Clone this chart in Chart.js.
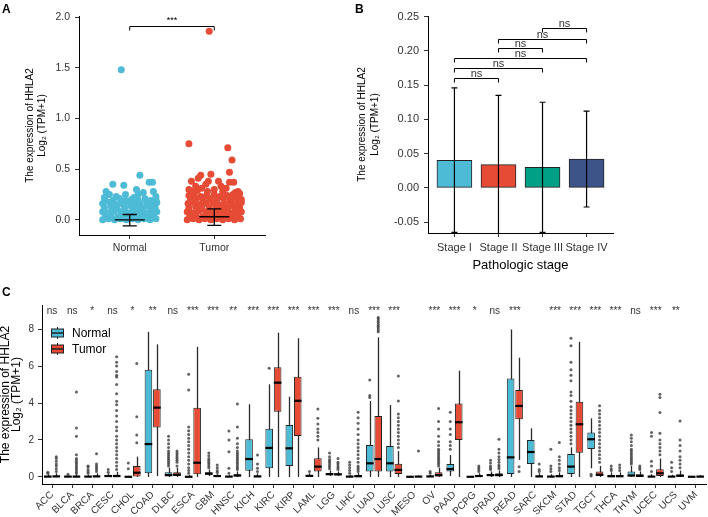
<!DOCTYPE html>
<html>
<head>
<meta charset="utf-8">
<title>HHLA2 expression</title>
<script src="https://cdn.jsdelivr.net/npm/chart.js@4.4.1/dist/chart.umd.min.js"></script>
<style>
  body { margin: 0; background: #fff; width: 708px; height: 517px; position: relative; overflow: hidden; font-family: 'Liberation Sans', Arial, sans-serif; }
  canvas { position: absolute; }
  .panel-label { position: absolute; font-weight: bold; font-size: 12px; color: #000; z-index: 2; }
</style>
</head>
<body>
<canvas id="chartA" width="290" height="280" style="left:0;top:0"></canvas>
<canvas id="chartB" width="300" height="280" style="left:354px;top:0"></canvas>
<canvas id="chartC" width="708" height="232" style="left:0;top:285px"></canvas>
<div class="panel-label" style="left:2px;top:2px">A</div>
<div class="panel-label" style="left:355px;top:2px">B</div>
<div class="panel-label" style="left:2px;top:285px">C</div>
<script>
// ---------- panel A : normal vs tumor, all samples ----------
const groupNames = ['Normal', 'Tumor'];
const groupTicks = [1, 2];
const yTicksA = [0, 0.5, 1, 1.5, 2];
// [jitter, value]
const normalPoints = [
  [-0.32, 0.00], [-0.25, 0.01], [-0.18, 0.00], [-0.11, 0.01], [-0.04, 0.00], [0.03, 0.01], [0.10, 0.00], [0.17, 0.01], [0.24, 0.00], [0.31, 0.01],
  [-0.29, 0.04], [-0.22, 0.05], [-0.14, 0.03], [-0.07, 0.04], [0.00, 0.05], [0.07, 0.03], [0.14, 0.04], [0.21, 0.05], [0.28, 0.04],
  [-0.32, 0.08], [-0.25, 0.07], [-0.18, 0.09], [-0.10, 0.08], [-0.03, 0.07], [0.04, 0.09], [0.11, 0.08], [0.18, 0.07], [0.25, 0.09], [0.32, 0.08],
  [-0.30, 0.12], [-0.22, 0.13], [-0.15, 0.11], [-0.06, 0.12], [0.02, 0.13], [0.09, 0.11], [0.16, 0.12], [0.23, 0.13], [0.30, 0.12],
  [-0.32, 0.16], [-0.24, 0.17], [-0.17, 0.15], [-0.10, 0.16], [-0.02, 0.17], [0.05, 0.15], [0.12, 0.16], [0.20, 0.17], [0.27, 0.15], [0.32, 0.17],
  [-0.29, 0.20], [-0.20, 0.19], [-0.12, 0.21], [-0.05, 0.19], [0.02, 0.20], [0.10, 0.19], [0.18, 0.21], [0.25, 0.19], [0.31, 0.20],
  [-0.10, 1.48], [0.12, 0.44], [-0.20, 0.35], [-0.07, 0.34], [0.23, 0.37], [0.27, 0.37], [0.08, 0.30], [-0.28, 0.28],
  [0.28, 0.28], [-0.24, 0.25], [0.10, 0.25], [-0.16, 0.23], [0.16, 0.27], [-0.30, 0.22], [0.05, 0.22], [0.31, 0.23], [-0.05, 0.25]
];
const tumorPoints = [
  [-0.32, 0.00], [-0.25, 0.01], [-0.18, 0.00], [-0.11, 0.01], [-0.04, 0.00], [0.03, 0.01], [0.10, 0.00], [0.17, 0.01], [0.24, 0.00], [0.31, 0.01],
  [-0.29, 0.04], [-0.22, 0.05], [-0.14, 0.03], [-0.07, 0.04], [0.00, 0.05], [0.07, 0.03], [0.14, 0.04], [0.21, 0.05], [0.28, 0.04],
  [-0.32, 0.08], [-0.25, 0.07], [-0.18, 0.09], [-0.10, 0.08], [-0.03, 0.07], [0.04, 0.09], [0.11, 0.08], [0.18, 0.07], [0.25, 0.09], [0.32, 0.08],
  [-0.30, 0.12], [-0.22, 0.13], [-0.15, 0.11], [-0.06, 0.12], [0.02, 0.13], [0.09, 0.11], [0.16, 0.12], [0.23, 0.13], [0.30, 0.12],
  [-0.31, 0.16], [-0.24, 0.17], [-0.17, 0.15], [-0.10, 0.16], [-0.02, 0.17], [0.05, 0.15], [0.12, 0.16], [0.20, 0.17], [0.27, 0.15], [0.32, 0.17],
  [-0.28, 0.20], [-0.21, 0.21], [-0.13, 0.19], [-0.05, 0.21], [0.03, 0.20], [0.11, 0.21], [0.19, 0.19], [0.26, 0.21], [0.32, 0.20],
  [-0.30, 0.24], [-0.24, 0.25], [-0.16, 0.23], [-0.09, 0.24], [0.00, 0.25], [0.07, 0.23], [0.15, 0.24], [0.22, 0.25], [0.29, 0.23],
  [-0.06, 1.86], [-0.30, 0.75], [0.16, 0.71], [0.21, 0.59], [0.18, 0.47], [-0.04, 0.45], [-0.16, 0.44], [-0.19, 0.41],
  [-0.27, 0.38], [-0.07, 0.38], [0.05, 0.38], [-0.10, 0.35], [0.18, 0.37], [0.23, 0.37], [0.28, 0.28], [-0.26, 0.28],
  [-0.15, 0.31], [0.00, 0.30], [0.10, 0.28], [-0.20, 0.29], [-0.08, 0.28], [0.14, 0.31], [0.25, 0.27], [0.30, 0.26],
  [-0.30, 0.30], [0.08, 0.33], [-0.22, 0.33]
];
const groupMean = [0.0, 0.03];
const groupLow = [-0.06, -0.055];
const groupHigh = [0.052, 0.108];
const bracketA = 1.91;
const sigA = '***';

// ---------- panel B : pathologic stage ----------
const stages = ['Stage I', 'Stage II', 'Stage III', 'Stage IV'];
const stageMean = [0.040, 0.034, 0.030, 0.042];
const stageLow = [-0.065, -0.075, -0.065, -0.028];
const stageHigh = [0.146, 0.135, 0.125, 0.112];
const stageColors = ['#4DBBD5', '#E64B35', '#00A087', '#3C5488'];
const yTicksB = [-0.05, 0, 0.05, 0.1, 0.15, 0.2, 0.25];
const stagePairs = [[1, 2], [1, 3], [1, 4], [2, 3], [2, 4], [3, 4]];
const pairHeights = [0.160, 0.175, 0.189, 0.204, 0.218, 0.233];
const pairLabels = ['ns', 'ns', 'ns', 'ns', 'ns', 'ns'];

// ---------- panel C : pan-cancer, normal vs tumor ----------
const cancers = ['ACC', 'BLCA', 'BRCA', 'CESC', 'CHOL', 'COAD', 'DLBC', 'ESCA', 'GBM', 'HNSC', 'KICH', 'KIRC', 'KIRP', 'LAML', 'LGG', 'LIHC', 'LUAD',
  'LUSC', 'MESO', 'OV', 'PAAD', 'PCPG', 'PRAD', 'READ', 'SARC', 'SKCM', 'STAD', 'TGCT', 'THCA', 'THYM', 'UCEC', 'UCS', 'UVM'];
const sigC = ['ns', 'ns', '*', 'ns', '*', '**', 'ns', '***', '***', '**', '***', '***', '***', '***', '***', 'ns', '***',
  '***', '', '***', '***', '*', 'ns', '***', '', '***', '***', '***', '***', 'ns', '***', '**', ''];
const yTicksC = [0, 2, 4, 6, 8];
// [lower whisker, q1, median, q3, upper whisker]
const normalBox = [
  [0, 0, 0.02, 0.06, 0.15], [0, 0, 0.02, 0.05, 0.1], [0, 0, 0.02, 0.05, 0.12], [0, 0.01, 0.05, 0.1, 0.2], [0, 0, 0.01, 0.03, 0.06],
  [0, 0.2, 1.78, 5.8, 7.85], [0, 0.05, 0.1, 0.25, 0.5], [0, 0, 0.01, 0.04, 0.1], [0.05, 0.12, 0.18, 0.25, 0.4], [0, 0, 0.02, 0.05, 0.1],
  [0, 0.34, 0.97, 2.04, 3.93], [0, 0.47, 1.57, 2.61, 5.01], [0, 0.59, 1.55, 2.81, 4.34], [0, 0.02, 0.06, 0.1, 0.2], [0.05, 0.1, 0.15, 0.22, 0.35],
  [0, 0, 0.02, 0.05, 0.12], [0, 0.29, 0.74, 1.73, 4.11], [0, 0.29, 0.74, 1.68, 3.89], [0, 0, 0.01, 0.03, 0.06], [0, 0.01, 0.03, 0.06, 0.12],
  [0.05, 0.29, 0.43, 0.7, 1.19], [0, 0, 0.01, 0.02, 0.04], [0, 0.05, 0.1, 0.18, 0.3], [0, 0.16, 1.06, 5.33, 7.98], [0, 0.7, 1.35, 2.0, 2.63],
  [0, 0, 0.02, 0.06, 0.15], [0, 0.16, 0.56, 1.24, 1.6], [0.47, 1.51, 2.04, 2.4, 3.17], [0, 0.01, 0.04, 0.1, 0.25], [0, 0.02, 0.08, 0.3, 0.6],
  [0, 0, 0.02, 0.06, 0.15], [0, 0, 0.02, 0.05, 0.12], [0, 0, 0.01, 0.03, 0.06]
];
const tumorBox = [
  [0, 0, 0.03, 0.08, 0.2], [0, 0, 0.02, 0.06, 0.15], [0, 0, 0.03, 0.08, 0.2], [0, 0.01, 0.05, 0.12, 0.28], [0, 0.02, 0.23, 0.6, 1.1],
  [0.05, 2.67, 3.75, 4.74, 7.17], [0, 0.05, 0.12, 0.25, 0.5], [0, 0.15, 0.77, 3.75, 7.04], [0, 0.02, 0.05, 0.1, 0.2], [0, 0.02, 0.08, 0.15, 0.3],
  [0, 0.01, 0.03, 0.08, 0.2], [0, 3.53, 5.1, 5.93, 7.8], [0, 2.22, 4.12, 5.42, 7.5], [0, 0.29, 0.56, 1.01, 1.6], [0.05, 0.1, 0.14, 0.2, 0.3],
  [0, 0.01, 0.04, 0.1, 0.22], [0, 0.29, 0.97, 3.3, 7.55], [0, 0.16, 0.38, 0.72, 1.4], [0, 0, 0.02, 0.04, 0.08], [0, 0.03, 0.1, 0.25, 0.5],
  [0, 2.0, 2.96, 3.98, 5.75], [0, 0.02, 0.05, 0.1, 0.2], [0, 0.05, 0.1, 0.2, 0.35], [0.92, 3.12, 3.84, 4.7, 6.45], [0, 0.01, 0.03, 0.08, 0.2],
  [0, 0.01, 0.04, 0.1, 0.25], [0, 1.31, 2.85, 4.07, 7.31], [0, 0.05, 0.12, 0.3, 0.6], [0, 0.01, 0.04, 0.1, 0.25], [0, 0.02, 0.06, 0.15, 0.3],
  [0, 0.05, 0.2, 0.42, 1.0], [0, 0.02, 0.06, 0.15, 0.35], [0, 0, 0.02, 0.05, 0.1]
];
const normalOut = [
  [0.2, 0.25], [0.15], [0.2, 0.3, 0.4, 0.55, 0.6], [0.25, 0.4], [0.45, 0.75],
  [], [0.6, 0.7, 0.8, 0.9, 1.0, 1.1, 1.2, 1.3, 1.4, 1.6, 1.8, 2.0, 2.2],
  [0.2, 0.35, 0.5, 0.7, 0.9, 1.1, 1.3, 1.5, 1.7, 1.9, 2.1, 2.3, 2.5, 2.7, 4.7, 5.55],
  [0.5, 0.6, 0.7, 0.8, 0.9, 1.0, 1.15, 1.3], [0.2, 0.47, 1.37, 2.0, 2.48],
  [], [5.88], [], [0.3], [0.45, 0.55, 0.65, 0.75, 0.85, 0.95, 1.1, 1.3],
  [0.2, 0.35, 0.5, 0.65, 0.8], [4.3, 4.4, 5.24], [], [], [0.2, 0.3],
  [1.5, 1.7, 1.9, 2.3, 2.6, 3.0, 3.5], [], [0.4, 0.5, 0.6, 0.75, 0.9], [], [],
  [0.3, 0.45, 0.6, 1.5],
  [1.8, 2.0, 2.2, 2.4, 2.6, 2.8, 3.0, 3.2, 3.4, 3.6, 3.8, 4.1, 4.4, 4.6, 5.2, 5.5, 5.8, 6.2, 7.1, 7.5],
  [0.05, 0.15], [0.35, 0.45, 0.6], [0.7, 0.8, 0.9, 1.0, 1.1, 1.2, 1.3, 1.4, 1.5, 1.7, 1.9, 2.1, 2.27],
  [0.3, 0.6, 0.85, 2.2, 2.4], [0.3, 0.5, 0.8], []
];
const tumorOut = [
  [0.3, 0.45, 0.6, 0.7, 0.85, 1.0, 1.1], [0.2, 0.3, 0.4, 0.5, 0.6, 0.7, 0.8, 0.9, 1.0, 1.2, 2.2, 2.65, 4.6],
  [0.3, 0.4, 0.5, 0.6, 0.7, 1.25],
  [0.4, 0.6, 0.8, 1.0, 1.2, 1.4, 1.6, 1.8, 2.0, 2.2, 2.5, 2.7, 3.0, 3.3, 3.6, 3.9, 4.1, 4.5, 5.0, 5.4, 5.5, 5.7, 6.0, 6.2, 6.5],
  [1.85, 2.27, 3.26, 6.14], [], [0.6, 0.8, 0.9, 1.0, 1.1, 1.2, 1.3, 1.4], [], [0.25, 0.35, 0.5, 0.65],
  [0.4, 0.5, 0.6, 0.7, 0.8, 0.9, 1.0, 1.1, 1.2, 1.3, 1.4, 1.6, 1.8, 2.1, 2.7, 3.95],
  [0.3, 0.47, 0.7, 1.19], [], [], [2.0, 2.2, 2.4, 2.6, 2.86, 3.17, 3.67], [0.4, 0.5, 0.6, 0.7, 0.8, 1.0],
  [0.3, 0.4, 0.5, 0.6, 0.8, 1.0, 1.2, 1.4, 1.6, 1.8, 2.0, 2.3, 2.6, 2.9, 3.2, 3.5],
  [7.85, 7.95, 8.05, 8.15, 8.25, 8.35, 8.45, 8.55, 8.63],
  [1.6, 1.8, 2.0, 2.2, 2.4, 2.6, 2.8, 3.0, 3.2, 3.4, 4.11, 5.46], [1.4],
  [0.6, 0.7, 0.8, 0.9, 1.0, 1.1, 1.2, 1.3, 1.4, 1.5, 1.7, 1.9, 2.2, 2.6, 3.0, 3.7],
  [], [0.3, 0.4, 0.5, 0.6], [0.45, 0.55, 0.65, 0.8, 0.95, 1.1, 1.3, 1.5, 2.04], [0.3, 0.55], [0.3, 0.4, 0.7],
  [0.35, 0.5, 0.7, 0.9, 1.1, 1.87], [],
  [0.8, 1.0, 1.2, 1.4, 1.6, 1.8, 2.0, 2.2, 2.4, 2.6, 2.8, 3.0, 3.2, 3.4, 3.6, 3.85],
  [0.35, 0.5, 0.65], [0.4, 0.5, 0.6], [1.2, 1.4, 1.6, 1.8, 2.0, 2.37, 3.48, 4.3, 4.47],
  [0.5, 0.7, 0.9, 1.1, 1.4, 1.7, 2.0, 3.03], []
];

const NORMAL_COL = '#4DBBD5';
const TUMOR_COL = '#E64B35';
const TICK_COL = '#333';
const yTitle = ['The expression of HHLA2', 'Log\u2082 (TPM+1)'];

Chart.defaults.font.family = "'Liberation Sans', Arial, sans-serif";
Chart.defaults.color = TICK_COL;

// ggplot style axes: black axis line, short ticks outside, no grid
function axisGrid() {
  return { drawOnChartArea: false, drawTicks: true, tickLength: 4, color: TICK_COL, offset: false };
}
const axisBorder = { display: true, color: '#000', width: 1 };

// error bars, mean line and significance bracket for panel A
const stripExtras = {
  id: 'stripExtras',
  afterDatasetsDraw(chart) {
    const { ctx, scales: { x, y } } = chart;
    ctx.save();
    ctx.strokeStyle = '#000';
    ctx.lineWidth = 1.3;
    groupTicks.forEach((g, i) => {
      const cx = x.getPixelForValue(g);
      const top = y.getPixelForValue(groupHigh[i]);
      const bot = y.getPixelForValue(groupLow[i]);
      const mid = y.getPixelForValue(groupMean[i]);
      ctx.beginPath();
      ctx.moveTo(cx, top); ctx.lineTo(cx, bot);
      ctx.moveTo(cx - 7, top); ctx.lineTo(cx + 7, top);
      ctx.moveTo(cx - 7, bot); ctx.lineTo(cx + 7, bot);
      ctx.moveTo(cx - 15, mid); ctx.lineTo(cx + 15, mid);
      ctx.stroke();
    });
    const x1 = x.getPixelForValue(groupTicks[0]);
    const x2 = x.getPixelForValue(groupTicks[1]);
    const by = Math.round(y.getPixelForValue(bracketA)) + 0.5;
    ctx.lineWidth = 1;
    ctx.beginPath();
    ctx.moveTo(x1, by + 4); ctx.lineTo(x1, by); ctx.lineTo(x2, by); ctx.lineTo(x2, by + 4);
    ctx.stroke();
    ctx.fillStyle = '#000';
    ctx.font = "9px 'Liberation Sans', Arial, sans-serif";
    ctx.textAlign = 'center';
    ctx.textBaseline = 'bottom';
    ctx.fillText(sigA, (x1 + x2) / 2, by - 1);
    ctx.restore();
  }
};

// error bars and pairwise brackets for panel B
const stageExtras = {
  id: 'stageExtras',
  afterDatasetsDraw(chart) {
    const { ctx, chartArea, scales: { x, y } } = chart;
    ctx.save();
    ctx.beginPath();
    ctx.rect(chartArea.left, chartArea.top, chartArea.right - chartArea.left, chartArea.bottom - chartArea.top + 1);
    ctx.clip();
    ctx.strokeStyle = '#000';
    ctx.lineWidth = 1.2;
    stageMean.forEach((m, i) => {
      const cx = x.getPixelForValue(i + 1);
      const top = y.getPixelForValue(stageHigh[i]);
      const bot = y.getPixelForValue(stageLow[i]);
      ctx.beginPath();
      ctx.moveTo(cx, top); ctx.lineTo(cx, bot);
      ctx.moveTo(cx - 3, top); ctx.lineTo(cx + 3, top);
      ctx.moveTo(cx - 3, bot); ctx.lineTo(cx + 3, bot);
      ctx.stroke();
    });
    ctx.restore();

    ctx.save();
    ctx.strokeStyle = '#000';
    ctx.lineWidth = 1;
    ctx.fillStyle = '#333';
    ctx.font = "11px 'Liberation Sans', Arial, sans-serif";
    ctx.textAlign = 'center';
    ctx.textBaseline = 'bottom';
    stagePairs.forEach((p, i) => {
      const x1 = x.getPixelForValue(p[0]);
      const x2 = x.getPixelForValue(p[1]);
      const by = Math.round(y.getPixelForValue(pairHeights[i])) + 0.5;
      ctx.beginPath();
      ctx.moveTo(x1, by + 4); ctx.lineTo(x1, by); ctx.lineTo(x2, by); ctx.lineTo(x2, by + 4);
      ctx.stroke();
      ctx.fillText(pairLabels[i], (x1 + x2) / 2, by + 1);
    });
    ctx.restore();
  }
};

// whiskers, medians, outliers, labels and legend for the box plots in panel C
const boxExtras = {
  id: 'boxExtras',
  beforeDatasetsDraw(chart) {
    const { ctx, scales: { y } } = chart;
    ctx.save();
    ctx.strokeStyle = '#2a2a2a';
    ctx.lineWidth = 1.3;
    [normalBox, tumorBox].forEach((stats, d) => {
      chart.getDatasetMeta(d).data.forEach((bar, i) => {
        const s = stats[i];
        const cx = Math.round(bar.x) + 0.5;
        ctx.beginPath();
        ctx.moveTo(cx, y.getPixelForValue(s[0]));
        ctx.lineTo(cx, y.getPixelForValue(s[4]));
        ctx.stroke();
      });
    });
    ctx.restore();
  },
  afterDatasetsDraw(chart) {
    const { ctx, scales: { x, y } } = chart;
    ctx.save();
    [[normalBox, normalOut], [tumorBox, tumorOut]].forEach(([stats, outs], d) => {
      chart.getDatasetMeta(d).data.forEach((bar, i) => {
        const half = bar.width / 2;
        const my = y.getPixelForValue(stats[i][2]);
        ctx.strokeStyle = '#000';
        ctx.lineWidth = 2.2;
        ctx.beginPath();
        ctx.moveTo(bar.x - half, my);
        ctx.lineTo(bar.x + half, my);
        ctx.stroke();
        ctx.fillStyle = 'rgba(60,60,60,0.8)';
        outs[i].forEach(v => {
          ctx.beginPath();
          ctx.arc(bar.x, y.getPixelForValue(v), 1.5, 0, Math.PI * 2);
          ctx.fill();
        });
      });
    });
    ctx.fillStyle = '#333';
    ctx.font = "10px 'Liberation Sans', Arial, sans-serif";
    ctx.textAlign = 'center';
    ctx.textBaseline = 'middle';
    const sy = y.getPixelForValue(8.97);
    sigC.forEach((s, i) => ctx.fillText(s, x.getPixelForValue(i), sy));

    // legend, drawn inside the panel
    [['Normal', NORMAL_COL], ['Tumor', TUMOR_COL]].forEach(([name, col], k) => {
      const cy = 48 + k * 16;
      ctx.strokeStyle = '#222';
      ctx.lineWidth = 1;
      ctx.beginPath();
      ctx.moveTo(57.5, cy - 6); ctx.lineTo(57.5, cy + 6);
      ctx.stroke();
      ctx.fillStyle = col;
      ctx.fillRect(51.5, cy - 4, 12, 8);
      ctx.strokeRect(51.5, cy - 4, 12, 8);
      ctx.lineWidth = 1.5;
      ctx.beginPath();
      ctx.moveTo(51.5, cy); ctx.lineTo(63.5, cy);
      ctx.stroke();
      ctx.fillStyle = '#000';
      ctx.textAlign = 'left';
      ctx.font = "12px 'Liberation Sans', Arial, sans-serif";
      ctx.fillText(name, 72, cy + 1);
    });
    ctx.restore();
  }
};

new Chart(document.getElementById('chartA'), {
  type: 'scatter',
  data: {
    datasets: [
      { label: 'Normal', data: normalPoints.map(p => ({ x: groupTicks[0] + p[0], y: p[1] })),
        pointBackgroundColor: NORMAL_COL, pointBorderWidth: 0, pointRadius: 3.5 },
      { label: 'Tumor', data: tumorPoints.map(p => ({ x: groupTicks[1] + p[0], y: p[1] })),
        pointBackgroundColor: TUMOR_COL, pointBorderWidth: 0, pointRadius: 3.5 }
    ]
  },
  options: {
    responsive: false,
    animation: false,
    layout: { padding: { top: 16, right: 25, left: 0, bottom: 0 } },
    plugins: { legend: { display: false }, tooltip: { enabled: false } },
    scales: {
      x: {
        type: 'linear', min: 0.4, max: 2.6,
        afterBuildTicks: s => { s.ticks = groupTicks.map(v => ({ value: v })); },
        afterFit: s => { s.height = 45; },
        ticks: { callback: (v, i) => groupNames[i], font: { size: 10.5 }, color: TICK_COL, padding: 3 },
        grid: axisGrid(), border: axisBorder
      },
      y: {
        min: -0.15, max: 2.01,
        afterBuildTicks: s => { s.ticks = yTicksA.map(v => ({ value: v })); },
        afterFit: s => { s.width = 79; },
        ticks: { callback: v => v.toFixed(1), font: { size: 10.5 }, color: TICK_COL, padding: 5 },
        grid: axisGrid(), border: axisBorder,
        title: { display: true, text: yTitle, color: '#000', font: { size: 10 }, padding: { top: 24, bottom: 0 } }
      }
    }
  },
  plugins: [stripExtras]
});

new Chart(document.getElementById('chartB'), {
  type: 'bar',
  data: {
    datasets: [{
      data: stageMean.map((v, i) => ({ x: i + 1, y: v })),
      backgroundColor: stageColors, borderColor: '#222', borderWidth: 1, borderSkipped: false, barThickness: 35
    }]
  },
  options: {
    responsive: false,
    animation: false,
    layout: { padding: { top: 16, right: 41, left: 0, bottom: 0 } },
    plugins: { legend: { display: false }, tooltip: { enabled: false } },
    scales: {
      x: {
        type: 'linear', min: 0.4, max: 4.6, offset: false,
        afterBuildTicks: s => { s.ticks = stages.map((_, i) => ({ value: i + 1 })); },
        afterFit: s => { s.height = 47; },
        ticks: { callback: (v, i) => stages[i], font: { size: 11 }, color: TICK_COL, padding: 4 },
        grid: axisGrid(), border: axisBorder,
        title: { display: true, text: 'Pathologic stage', color: '#000', font: { size: 13 }, padding: { top: 0, bottom: 7 } }
      },
      y: {
        min: -0.066, max: 0.251,
        afterBuildTicks: s => { s.ticks = yTicksB.map(v => ({ value: v })); },
        afterFit: s => { s.width = 74; },
        ticks: { callback: v => v.toFixed(2), font: { size: 11 }, color: TICK_COL, padding: 5 },
        grid: axisGrid(), border: axisBorder,
        title: { display: true, text: yTitle, color: '#000', font: { size: 10, lineHeight: 1.3 }, padding: { top: 2, bottom: 0 } }
      }
    }
  },
  plugins: [stageExtras]
});

new Chart(document.getElementById('chartC'), {
  type: 'bar',
  data: {
    labels: cancers,
    datasets: [
      { label: 'Normal', data: normalBox.map(s => [s[1], s[3]]), backgroundColor: NORMAL_COL, borderColor: '#222',
        borderWidth: 1, borderSkipped: false, categoryPercentage: 0.84, barPercentage: 0.9 },
      { label: 'Tumor', data: tumorBox.map(s => [s[1], s[3]]), backgroundColor: TUMOR_COL, borderColor: '#222',
        borderWidth: 1, borderSkipped: false, categoryPercentage: 0.84, barPercentage: 0.9 }
    ]
  },
  options: {
    responsive: false,
    animation: false,
    layout: { padding: { top: 20, right: 2, left: 0, bottom: 0 } },
    plugins: { legend: { display: false }, tooltip: { enabled: false } },
    scales: {
      x: {
        afterFit: s => { s.height = 33; },
        ticks: { autoSkip: false, minRotation: 45, maxRotation: 45, font: { size: 10 }, color: TICK_COL, padding: 1 },
        grid: axisGrid(), border: axisBorder
      },
      y: {
        min: -0.38, max: 9.3,
        afterBuildTicks: s => { s.ticks = yTicksC.map(v => ({ value: v })); },
        afterFit: s => { s.width = 42; },
        ticks: { font: { size: 10 }, color: TICK_COL, padding: 4 },
        grid: axisGrid(), border: axisBorder,
        title: { display: true, text: yTitle, color: '#000', font: { size: 12, lineHeight: 0.85 }, padding: { top: 1, bottom: 0 } }
      }
    }
  },
  plugins: [boxExtras]
});
</script>
</body>
</html>
